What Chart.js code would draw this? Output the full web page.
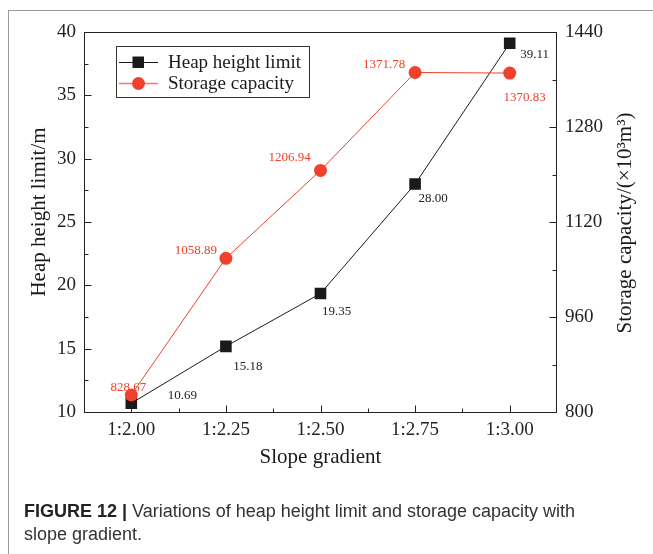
<!DOCTYPE html>
<html>
<head>
<meta charset="utf-8">
<script src="https://cdn.jsdelivr.net/npm/chart.js@4/dist/chart.umd.min.js"></script>
<style>
  html, body { margin: 0; padding: 0; background: #fff; }
  #wrap { position: relative; width: 653px; height: 554px; overflow: hidden; background: #fff; }
  #frame { position: absolute; left: 8px; top: 10px; width: 700px; height: 600px;
           border-left: 1px solid #999; border-top: 1px solid #999; }
  #c { position: absolute; left: 0; top: 0; }
  #caption { position: absolute; left: 24px; top: 500px; width: 625px;
             font-family: 'Liberation Sans', Arial, sans-serif; font-size: 18px;
             line-height: 23px; color: #333; white-space: nowrap; }
  #caption b { color: #222; }
</style>
</head>
<body>
<div id="wrap">
  <div id="frame"></div>
  <canvas id="c" width="653" height="554"></canvas>
  <div id="caption"><b>FIGURE 12 |</b> Variations of heap height limit and storage capacity with<br>slope gradient.</div>
</div>
<script>
// ---- data ----
const categories = ['1:2.00', '1:2.25', '1:2.50', '1:2.75', '1:3.00'];
const heapHeight = [10.69, 15.18, 19.35, 28.00, 39.11];
const storageCapacity = [828.67, 1058.89, 1206.94, 1371.78, 1370.83];
const leftTicks = [10, 15, 20, 25, 30, 35, 40];
const rightTicks = [800, 960, 1120, 1280, 1440];
const heapLabels = ['10.69', '15.18', '19.35', '28.00', '39.11'];
const storageLabels = ['828.67', '1058.89', '1206.94', '1371.78', '1370.83'];

// ---- style ----
const RED = '#f0412a';
const BLACK = '#1a1a1a';
const SERIF = "'Liberation Serif', 'Times New Roman', serif";
// label offsets (text centre relative to point)
const heapLabelOffsets = [[51, -8], [22, 20], [16, 18], [18, 15], [25, 11]];
const storageLabelOffsets = [[-3, -7], [-30, -8], [-31, -13], [-31, -8], [15, 25]];

const decor = {
  id: 'decor',
  beforeDatasetsDraw(chart) {
    const ctx = chart.ctx;
    ctx.save();
    ctx.font = '13px ' + SERIF;
    ctx.textAlign = 'center';
    ctx.textBaseline = 'middle';
    const mH = chart.getDatasetMeta(1);
    const mS = chart.getDatasetMeta(0);
    mH.data.forEach((p, i) => {
      ctx.fillStyle = '#222';
      ctx.fillText(heapLabels[i], p.x + heapLabelOffsets[i][0], p.y + heapLabelOffsets[i][1]);
    });
    mS.data.forEach((p, i) => {
      ctx.fillStyle = RED;
      ctx.fillText(storageLabels[i], p.x + storageLabelOffsets[i][0], p.y + storageLabelOffsets[i][1]);
    });
    ctx.restore();
  },
  afterDraw(chart) {
    const ctx = chart.ctx;
    const a = chart.chartArea;
    const sx = chart.scales.x, sy = chart.scales.y, sy1 = chart.scales.y1;
    ctx.save();
    ctx.strokeStyle = '#222';
    ctx.lineWidth = 1;
    ctx.strokeRect(Math.round(a.left) + 0.5, Math.round(a.top) + 0.5,
                   Math.round(a.right - a.left) - 1, Math.round(a.bottom - a.top));
    ctx.beginPath();
    const L = Math.round(a.left) + 0.5, R = Math.round(a.right) - 0.5, B = Math.round(a.bottom) + 0.5;
    for (let i = 0; i < leftTicks.length; i++) {
      const y = Math.round(sy.getPixelForValue(leftTicks[i])) + 0.5;
      ctx.moveTo(L, y); ctx.lineTo(L + 7, y);
      if (i < leftTicks.length - 1) {
        const ym = Math.round(sy.getPixelForValue((leftTicks[i] + leftTicks[i + 1]) / 2)) + 0.5;
        ctx.moveTo(L, ym); ctx.lineTo(L + 4, ym);
      }
    }
    for (let i = 0; i < rightTicks.length; i++) {
      const y = Math.round(sy1.getPixelForValue(rightTicks[i])) + 0.5;
      ctx.moveTo(R, y); ctx.lineTo(R - 7, y);
      if (i < rightTicks.length - 1) {
        const ym = Math.round(sy1.getPixelForValue((rightTicks[i] + rightTicks[i + 1]) / 2)) + 0.5;
        ctx.moveTo(R, ym); ctx.lineTo(R - 4, ym);
      }
    }
    for (let i = 0; i < categories.length; i++) {
      const x = Math.round(sx.getPixelForValue(i)) + 0.5;
      ctx.moveTo(x, B); ctx.lineTo(x, B - 7);
      if (i < categories.length - 1) {
        const xm = Math.round((sx.getPixelForValue(i) + sx.getPixelForValue(i + 1)) / 2) + 0.5;
        ctx.moveTo(xm, B); ctx.lineTo(xm, B - 4);
      }
    }
    ctx.stroke();

    // axis titles
    ctx.fillStyle = '#1a1a1a';
    ctx.font = '21px ' + SERIF;
    ctx.textAlign = 'center';
    ctx.textBaseline = 'middle';
    ctx.fillText('Slope gradient', (a.left + a.right) / 2, 457);
    ctx.save();
    ctx.translate(39, 212);
    ctx.rotate(-Math.PI / 2);
    ctx.fillText('Heap height limit/m', 0, 0);
    ctx.restore();
    ctx.save();
    ctx.translate(625, 223);
    ctx.rotate(-Math.PI / 2);
    ctx.fillText('Storage capacity/(×10³m³)', 0, 0);
    ctx.restore();

    // legend
    ctx.strokeStyle = '#333';
    ctx.strokeRect(116.5, 46.5, 193, 51);
    ctx.beginPath();
    ctx.strokeStyle = BLACK;
    ctx.moveTo(119, 62.5); ctx.lineTo(158, 62.5);
    ctx.stroke();
    ctx.fillStyle = BLACK;
    ctx.fillRect(132.5, 56.5, 11.5, 11.5);
    ctx.beginPath();
    ctx.strokeStyle = 'rgba(240,65,42,0.7)';
    ctx.lineWidth = 1.6;
    ctx.moveTo(119, 83.5); ctx.lineTo(158, 83.5);
    ctx.stroke();
    ctx.beginPath();
    ctx.fillStyle = RED;
    ctx.arc(138.5, 83.5, 6.5, 0, Math.PI * 2);
    ctx.fill();
    ctx.fillStyle = '#1a1a1a';
    ctx.font = '19px ' + SERIF;
    ctx.textAlign = 'left';
    ctx.fillText('Heap height limit', 168, 63);
    ctx.fillText('Storage capacity', 168, 84);
    ctx.restore();
  }
};

new Chart(document.getElementById('c'), {
  type: 'line',
  data: {
    labels: categories,
    datasets: [
      {
        label: 'Storage capacity',
        data: storageCapacity,
        yAxisID: 'y1',
        borderColor: RED,
        backgroundColor: RED,
        borderWidth: 1,
        pointStyle: 'circle',
        pointRadius: 6.5,
        pointBorderWidth: 0,
        tension: 0,
        order: 1
      },
      {
        label: 'Heap height limit',
        data: heapHeight,
        yAxisID: 'y',
        borderColor: BLACK,
        backgroundColor: BLACK,
        borderWidth: 1,
        pointStyle: 'rect',
        pointRadius: 8.2,
        pointBorderWidth: 0,
        tension: 0,
        order: 2
      }
    ]
  },
  options: {
    responsive: false,
    devicePixelRatio: 1,
    animation: false,
    events: [],
    layout: { padding: { top: 32, left: 0, right: 0, bottom: 0 } },
    plugins: { legend: { display: false }, tooltip: { enabled: false } },
    scales: {
      x: {
        type: 'category',
        offset: true,
        grid: { display: false, drawTicks: false },
        border: { display: false },
        ticks: { color: '#222', font: { family: SERIF, size: 19 }, padding: 7, maxRotation: 0, autoSkip: false },
        afterFit(s) { s.height = 142; }
      },
      y: {
        position: 'left',
        min: 10, max: 40,
        afterBuildTicks(s) { s.ticks = leftTicks.map(v => ({ value: v })); },
        grid: { display: false, drawTicks: false },
        border: { display: false },
        ticks: { color: '#222', font: { family: SERIF, size: 19 }, padding: 8, callback: v => String(v) },
        afterFit(s) { s.width = 84; }
      },
      y1: {
        position: 'right',
        min: 800, max: 1440,
        afterBuildTicks(s) { s.ticks = rightTicks.map(v => ({ value: v })); },
        grid: { display: false, drawTicks: false },
        border: { display: false },
        ticks: { color: '#222', font: { family: SERIF, size: 19 }, padding: 8, callback: v => String(v) },
        afterFit(s) { s.width = 96; }
      }
    }
  },
  plugins: [decor]
});
</script>
</body>
</html>
